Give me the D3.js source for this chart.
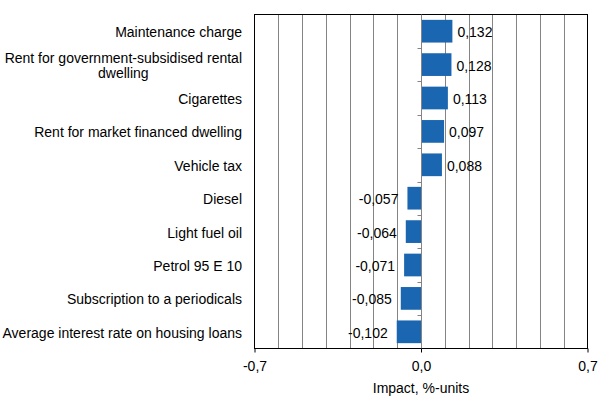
<!DOCTYPE html>
<html>
<head>
<meta charset="utf-8">
<script src="https://d3js.org/d3.v7.min.js"></script>
<style>
    body { margin: 0; background: white; }
    text { font-family: "Liberation Sans", Arial, sans-serif; font-size: 14px; fill: #000; }
</style>
</head>
<body>
<div id="chart"></div>
<script>
    // data
    let categories = [
        "Maintenance charge",
        "Rent for government-subsidised rental\ndwelling",
        "Cigarettes",
        "Rent for market financed dwelling",
        "Vehicle tax",
        "Diesel",
        "Light fuel oil",
        "Petrol 95 E 10",
        "Subscription to a periodicals",
        "Average interest rate on housing loans"
    ];
    let values = [0.132, 0.128, 0.113, 0.097, 0.088, -0.057, -0.064, -0.071, -0.085, -0.102];
    let tickValues = [-0.7, 0.0, 0.7];
    let axisTitle = "Impact, %-units";

    let fi = d3.formatLocale({ decimal: ",", thousands: " ", grouping: [3], currency: ["", "€"], minus: "-" });
    let fmtValue = fi.format(".3f");
    let fmtTick = fi.format(".1f");

    let width = 606, height = 416;
    let plotLeft = 254.5, plotRight = 587.5, plotTop = 14.5, plotBottom = 348.5;

    let svg = d3.select("#chart")
        .append("svg")
        .attr("width", width)
        .attr("height", height);

    let x = d3.scaleLinear().domain([-0.7, 0.7]).range([plotLeft, plotRight]);
    let y = d3.scaleBand().domain(d3.range(categories.length))
        .range([plotTop, plotBottom]).paddingInner(0.32).paddingOuter(0.16);

    // vertical gridlines every 0,1
    let grid = d3.range(-6, 7).map(d => d / 10);
    svg.append("g").selectAll("line")
        .data(grid)
        .join("line")
        .attr("x1", d => Math.round(x(d)) + 0.5)
        .attr("x2", d => Math.round(x(d)) + 0.5)
        .attr("y1", plotTop)
        .attr("y2", plotBottom)
        .attr("stroke", "#848484")
        .attr("stroke-width", 1);

    // plot area frame
    svg.append("rect")
        .attr("x", plotLeft).attr("y", plotTop)
        .attr("width", plotRight - plotLeft).attr("height", plotBottom - plotTop)
        .attr("fill", "none")
        .attr("stroke", "#000");

    // bars
    svg.append("g").selectAll("rect")
        .data(values)
        .join("rect")
        .attr("x", d => x(Math.min(0, d)))
        .attr("y", (d, i) => y(i))
        .attr("width", d => Math.abs(x(d) - x(0)))
        .attr("height", y.bandwidth())
        .attr("fill", "#1a66b1");

    // category axis on zero line
    let x0 = Math.round(x(0)) + 0.5;
    svg.append("line")
        .attr("x1", x0).attr("x2", x0)
        .attr("y1", plotTop).attr("y2", plotBottom)
        .attr("stroke", "#848484");
    svg.append("g").selectAll("line")
        .data(d3.range(1, categories.length))
        .join("line")
        .attr("x1", x0 - 4).attr("x2", x0)
        .attr("y1", i => Math.round(plotTop + i * y.step()) + 0.5)
        .attr("y2", i => Math.round(plotTop + i * y.step()) + 0.5)
        .attr("stroke", "#848484");

    // value labels
    svg.append("g").selectAll("text")
        .data(values)
        .join("text")
        .attr("x", d => d >= 0 ? x(d) + 5 : x(d) - 9)
        .attr("y", (d, i) => y(i) + y.bandwidth() / 2 + 1)
        .attr("dy", "0.35em")
        .attr("text-anchor", d => d >= 0 ? "start" : "end")
        .text(d => fmtValue(d));

    // category labels
    let labelX = 242;
    categories.forEach((c, i) => {
        let lines = c.split("\n");
        let cy = y(i) + y.bandwidth() / 2 + 1;
        let t = svg.append("text")
            .attr("text-anchor", "end");
        if (lines.length == 1) {
            t.attr("x", labelX).attr("y", cy).attr("dy", "0.35em").text(c);
        } else {
            let lh = 15;
            let spans = lines.map((l, k) => t.append("tspan")
                .attr("x", labelX)
                .attr("y", cy + (k - (lines.length - 1) / 2) * lh)
                .attr("dy", "0.35em")
                .text(l));
            let maxW = d3.max(spans, s => s.node().getComputedTextLength());
            t.attr("text-anchor", "middle");
            spans.forEach(s => s.attr("x", labelX - maxW / 2));
        }
    });

    // value axis
    let axis = svg.append("g")
        .attr("transform", "translate(0," + plotBottom + ")")
        .call(d3.axisBottom(x).tickValues(tickValues).tickSize(4).tickPadding(8.5).tickFormat(fmtTick));
    axis.select(".domain").remove();
    axis.selectAll("line").attr("stroke", "#000");
    axis.selectAll("text")
        .style("font-family", "Liberation Sans, Arial, sans-serif")
        .style("font-size", "14px")
        .attr("fill", "#000");

    svg.append("text")
        .attr("x", x(0))
        .attr("y", 393)
        .attr("text-anchor", "middle")
        .text(axisTitle);
</script>
</body>
</html>
